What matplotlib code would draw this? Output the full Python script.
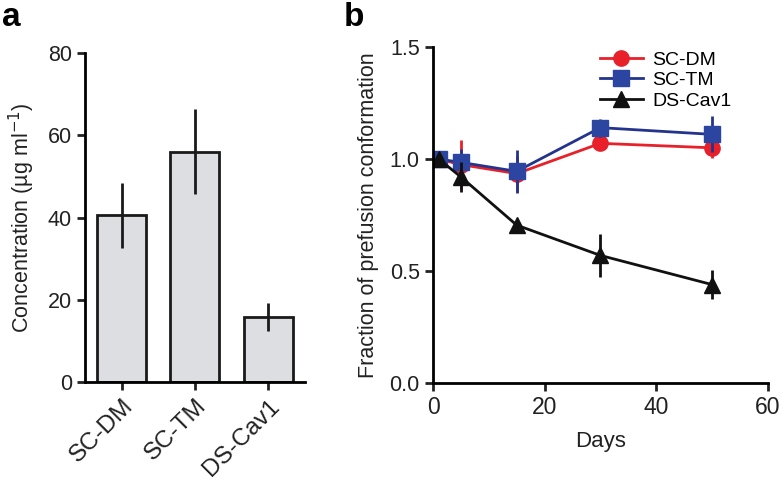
import matplotlib
matplotlib.use("Agg")
import matplotlib.pyplot as plt

plt.rcParams['font.family'] = ['Liberation Sans', 'DejaVu Sans']

# panel a data
constructs = ['SC-DM', 'SC-TM', 'DS-Cav1']
conc = [40.6, 56.0, 15.8]
conc_err = [7.9, 10.3, 3.5]

# panel b data
days = [1, 5, 15, 30, 50]
sc_dm = [1.0, 0.975, 0.935, 1.07, 1.05]
sc_dm_err = [0.0, 0.11, 0.08, 0.02, 0.045]
sc_tm = [1.0, 0.985, 0.945, 1.14, 1.11]
sc_tm_err = [0.0, 0.06, 0.095, 0.04, 0.08]
ds_cav1 = [1.0, 0.92, 0.705, 0.57, 0.44]
ds_cav1_err = [0.0, 0.065, 0.01, 0.095, 0.065]

fig = plt.figure(figsize=(7.81, 4.79), dpi=100)
ax1 = fig.add_axes([0.109, 0.2025, 0.281, 0.6865])
ax2 = fig.add_axes([0.5545, 0.200, 0.4285, 0.702])

for ax in (ax1, ax2):
    ax.spines['top'].set_visible(False)
    ax.spines['right'].set_visible(False)
    ax.spines['left'].set_linewidth(2)
    ax.spines['bottom'].set_linewidth(2)
    ax.tick_params(width=2, length=6, labelsize=15.5, color='#222222', labelcolor='#222222')

# --- panel a ---
x = range(len(constructs))
ax1.bar(x, conc, width=0.67, color='#dddee2', edgecolor='#1a1a1a', linewidth=2)
ax1.errorbar(x, conc, yerr=conc_err, fmt='none', ecolor='#1a1a1a', elinewidth=2, capsize=0)
ax1.set_xlim(-0.5, 2.5)
ax1.set_ylim(0, 80)
ax1.set_yticks([0, 20, 40, 60, 80])
ax1.set_xticks(list(x))
ax1.set_xticklabels(constructs, rotation=45, ha='right', rotation_mode='anchor', fontsize=17.5)
ax1.set_ylabel('Concentration (µg ml$^{-1}$)', fontsize=15.5, color='#222222', labelpad=8)

# --- panel b ---
series = [
    (sc_dm, sc_dm_err, '#e8202a', '#e8202a', 'o', 'SC-DM'),
    (sc_tm, sc_tm_err, '#24348c', '#2c45a0', 's', 'SC-TM'),
    (ds_cav1, ds_cav1_err, '#111111', '#111111', '^', 'DS-Cav1'),
]
for vals, errs, lc, mc, mk, lab in series:
    ax2.errorbar(days, vals, yerr=errs, fmt='none', ecolor=lc, elinewidth=2, capsize=0)
    ax2.plot(days, vals, color=lc, marker=mk, markersize=11, markerfacecolor=mc,
             markeredgecolor=mc, linewidth=2, label=lab)
ax2.set_xlim(0, 60)
ax2.set_ylim(0, 1.5)
ax2.set_xticks([0, 20, 40, 60])
ax2.set_yticks([0.0, 0.5, 1.0, 1.5])
ax2.set_yticklabels(['0.0', '0.5', '1.0', '1.5'])
ax2.tick_params(axis='x', labelsize=16.5)
ax2.set_xlabel('Days', fontsize=16, color='#222222', labelpad=8)
ax2.set_ylabel('Fraction of prefusion conformation', fontsize=15.5, color='#222222', labelpad=8)
ax2.legend(loc='upper right', bbox_to_anchor=(0.945, 1.04), frameon=False, fontsize=14,
           handlelength=2.2, handletextpad=0.5, labelspacing=0.15)

fig.text(0.002, 0.995, 'a', fontsize=24, fontweight='bold', va='top')
fig.text(0.44, 0.995, 'b', fontsize=24, fontweight='bold', va='top')

fig.savefig('out.png', dpi=100)
